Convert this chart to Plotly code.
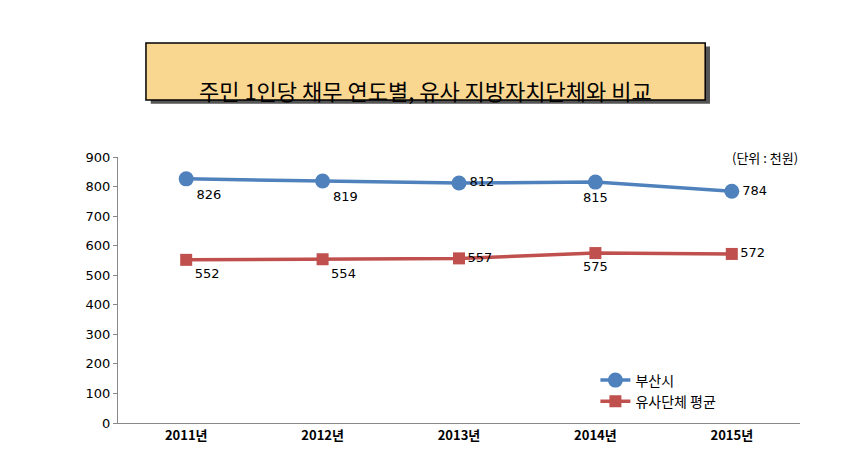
import plotly.graph_objects as go

years = ["2011년", "2012년", "2013년", "2014년", "2015년"]
busan = [826, 819, 812, 815, 784]
similar = [552, 554, 557, 575, 572]
busan_pos = ["bottom right", "bottom right", "middle right", "bottom center", "middle right"]
similar_pos = ["bottom right", "bottom right", "middle right", "bottom center", "middle right"]

font = "Noto Sans CJK KR"
fig = go.Figure()
fig.add_trace(go.Scatter(x=years, y=busan, name="부산시", mode="lines+markers+text",
    line=dict(color="#4F81BD", width=3.5), marker=dict(symbol="circle", size=15, color="#4F81BD"),
    text=[str(v) for v in busan], textposition=busan_pos, textfont=dict(size=13, color="black", family="DejaVu Sans")))
fig.add_trace(go.Scatter(x=years, y=similar, name="유사단체 평균", mode="lines+markers+text",
    line=dict(color="#C0504D", width=3.5), marker=dict(symbol="square", size=12, color="#C0504D"),
    text=[str(v) for v in similar], textposition=similar_pos, textfont=dict(size=13, color="black", family="DejaVu Sans")))

fig.update_layout(
    width=842, height=466, paper_bgcolor="white", plot_bgcolor="white",
    margin=dict(l=110, r=50, t=149, b=51, autoexpand=False),
    font=dict(family=font, color="black"),
    xaxis=dict(showline=True, linecolor="#888", ticks="", showgrid=False,
               tickfont=dict(size=13, family=font, weight="bold"), range=[-0.5, 4.5]),
    yaxis=dict(range=[0, 900], dtick=100, showline=True, linecolor="#888", ticks="outside",
               ticklen=4, tickcolor="#888", showgrid=False, tickfont=dict(size=13, family="DejaVu Sans")),
    legend=dict(x=0.7, y=0.22, xanchor="left", yanchor="top", font=dict(size=14, family=font),
                bgcolor="rgba(0,0,0,0)"),
    showlegend=True,
    shapes=[
        dict(type="rect", xref="paper", yref="paper", x0=0.048, x1=0.868, y0=1.20, y1=1.415,
             fillcolor="#555", line=dict(width=0), layer="below"),
        dict(type="rect", xref="paper", yref="paper", x0=0.041, x1=0.861, y0=1.214, y1=1.429,
             fillcolor="#FAD791", line=dict(color="black", width=1.5)),
    ],
    annotations=[
        dict(text="주민 1인당 채무 연도별, 유사 지방자치단체와 비교", xref="paper", yref="paper",
             x=0.451, y=1.321, showarrow=False, font=dict(size=22, family=font)),
        dict(text="(단위 : 천원)", xref="paper", yref="paper", x=1.0, y=1.04, xanchor="right",
             showarrow=False, font=dict(size=13, family=font)),
    ],
)
fig.write_html("out.html")
